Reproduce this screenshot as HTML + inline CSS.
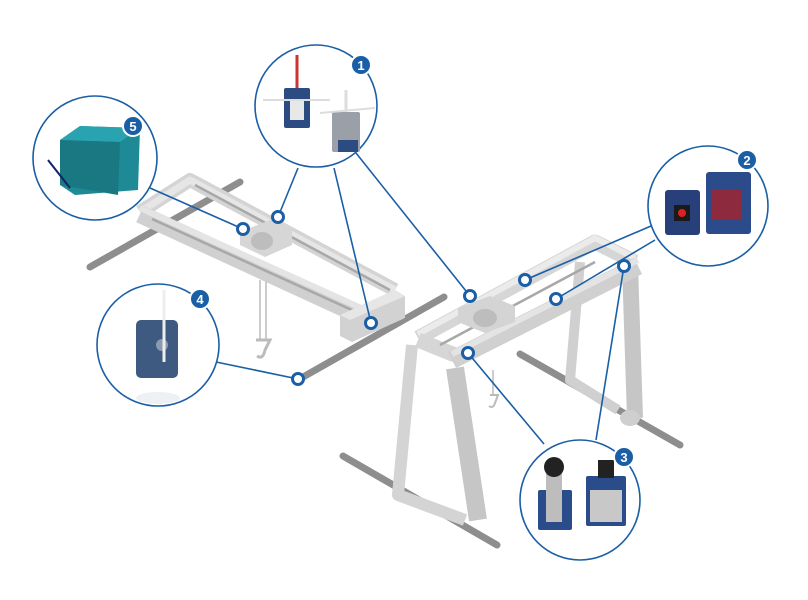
<!DOCTYPE html>
<html><head><meta charset="utf-8"><style>html,body{margin:0;padding:0;background:#fff}svg{display:block}</style></head>
<body>
<svg width="808" height="600" viewBox="0 0 808 600" xmlns="http://www.w3.org/2000/svg" font-family="Liberation Sans, sans-serif">
<g stroke-linecap="round">
<line x1="90" y1="267" x2="240" y2="182" stroke="#8e8e8e" stroke-width="7"/>
<line x1="296" y1="381" x2="444" y2="297" stroke="#8e8e8e" stroke-width="7"/>
</g>
<!-- left bridge crane: hollow frame -->
<g stroke-linejoin="round" fill="none">
<polyline points="140,212 190,180 395,290" stroke="#d4d4d4" stroke-width="14"/>
<polyline points="140,212 190,180 395,290" stroke="#e6e6e6" stroke-width="7"/>
<line x1="140" y1="214" x2="370" y2="320" stroke="#d0d0d0" stroke-width="18"/>
<line x1="140" y1="208" x2="370" y2="312" stroke="#e4e4e4" stroke-width="6"/>
<line x1="152" y1="219" x2="365" y2="316" stroke="#a8a8a8" stroke-width="2.5"/>
<line x1="195" y1="185" x2="390" y2="290" stroke="#a8a8a8" stroke-width="2.5"/>
</g>
<polygon points="340,315 395,290 405,296 405,318 352,342 340,336" fill="#d2d2d2"/>
<polygon points="340,315 395,290 405,296 350,320" fill="#e6e6e6"/>
<polygon points="240,232 275,218 292,228 292,245 265,257 240,245" fill="#d6d6d6"/>
<ellipse cx="262" cy="241" rx="11" ry="9" fill="#bdbdbd"/>
<line x1="260" y1="280" x2="260" y2="340" stroke="#ccc" stroke-width="2"/>
<line x1="266" y1="280" x2="266" y2="340" stroke="#ccc" stroke-width="2"/>
<path d="M256 340 h14 l-5 10 q-2 10 -8 6" fill="none" stroke="#bbb" stroke-width="3"/>
<!-- gantry rails -->
<g stroke-linecap="round">
<line x1="343" y1="456" x2="497" y2="545" stroke="#8e8e8e" stroke-width="7"/>
<line x1="520" y1="354" x2="680" y2="445" stroke="#8e8e8e" stroke-width="7"/>
</g>
<!-- right leg (hollow) -->
<g fill="none" stroke-linejoin="round">
<polyline points="580,262 570,380 618,410" stroke="#d0d0d0" stroke-width="10"/>
<line x1="630" y1="265" x2="635" y2="418" stroke="#c6c6c6" stroke-width="16"/>
</g>
<ellipse cx="630" cy="418" rx="10" ry="8" fill="#cfcfcf"/>
<!-- gantry top frame -->
<g fill="none" stroke-linejoin="round">
<polyline points="418,338 595,242 635,262" stroke="#d6d6d6" stroke-width="15"/>
<polyline points="418,334 595,238 635,258" stroke="#ebebeb" stroke-width="6"/>
<line x1="418" y1="340" x2="455" y2="355" stroke="#d6d6d6" stroke-width="15"/>
<line x1="452" y1="360" x2="638" y2="266" stroke="#d0d0d0" stroke-width="18"/>
<line x1="452" y1="354" x2="638" y2="260" stroke="#e4e4e4" stroke-width="6"/>
<line x1="440" y1="345" x2="595" y2="262" stroke="#a8a8a8" stroke-width="2.5"/>
</g>
<polygon points="458,308 490,296 515,306 515,322 485,333 458,322" fill="#d4d4d4"/>
<ellipse cx="485" cy="318" rx="12" ry="9" fill="#bdbdbd"/>
<!-- left leg (hollow) -->
<g fill="none" stroke-linejoin="round">
<polyline points="412,345 398,495 465,520" stroke="#d4d4d4" stroke-width="12"/>
<line x1="455" y1="368" x2="478" y2="520" stroke="#c6c6c6" stroke-width="18"/>
</g>
<line x1="493" y1="370" x2="493" y2="395" stroke="#ccc" stroke-width="2"/>
<path d="M490 395 h8 l-3 8 q-2 6 -6 3" fill="none" stroke="#bbb" stroke-width="2"/>
<!-- connector lines -->
<g stroke="#1a5fa6" stroke-width="1.6" fill="none">
<line x1="150" y1="188" x2="243" y2="229"/>
<line x1="298" y1="168" x2="278" y2="217"/>
<line x1="334" y1="168" x2="371" y2="323"/>
<line x1="356" y1="153" x2="470" y2="296"/>
<line x1="216" y1="362" x2="298" y2="379"/>
<line x1="651" y1="226" x2="525" y2="280"/>
<line x1="655" y1="240" x2="556" y2="299"/>
<line x1="544" y1="444" x2="468" y2="353"/>
<line x1="596" y1="440" x2="624" y2="266"/>
</g>
<g fill="#fff" stroke="#1a5fa6" stroke-width="3">
<circle cx="243" cy="229" r="5.5"/><circle cx="278" cy="217" r="5.5"/>
<circle cx="371" cy="323" r="5.5"/><circle cx="298" cy="379" r="5.5"/>
<circle cx="470" cy="296" r="5.5"/><circle cx="525" cy="280" r="5.5"/>
<circle cx="556" cy="299" r="5.5"/><circle cx="624" cy="266" r="5.5"/>
<circle cx="468" cy="353" r="5.5"/>
</g>
<g fill="#fff" stroke="#1a5fa6" stroke-width="1.6">
<circle cx="316" cy="106" r="61"/>
<circle cx="708" cy="206" r="60"/>
<circle cx="580" cy="500" r="60"/>
<circle cx="158" cy="345" r="61"/>
<circle cx="95" cy="158" r="62"/>
</g>
<!-- product 1 -->
<rect x="284" y="88" width="26" height="40" rx="2" fill="#2c4b80"/>
<rect x="290" y="100" width="14" height="20" fill="#e8e8e8"/>
<line x1="297" y1="55" x2="297" y2="88" stroke="#c33" stroke-width="3"/>
<line x1="263" y1="100" x2="330" y2="100" stroke="#ddd" stroke-width="2"/>
<rect x="332" y="112" width="28" height="40" rx="2" fill="#9a9fa8"/>
<rect x="338" y="140" width="20" height="12" fill="#2c4b80"/>
<line x1="346" y1="90" x2="346" y2="112" stroke="#ddd" stroke-width="3"/>
<line x1="320" y1="113" x2="375" y2="108" stroke="#ddd" stroke-width="2"/>
<!-- product 2 -->
<rect x="706" y="172" width="45" height="62" rx="3" fill="#2c4b8a"/>
<rect x="712" y="190" width="30" height="30" fill="#8e2a3e"/>
<rect x="665" y="190" width="35" height="45" rx="3" fill="#27407a"/>
<rect x="674" y="205" width="16" height="16" fill="#1a1a1a"/>
<circle cx="682" cy="213" r="4" fill="#e02020"/>
<!-- product 3 -->
<rect x="538" y="490" width="34" height="40" rx="2" fill="#2b4c8a"/>
<rect x="546" y="470" width="16" height="52" fill="#bdbdbd"/>
<circle cx="554" cy="467" r="10" fill="#222"/>
<rect x="586" y="476" width="40" height="50" rx="2" fill="#2b4c8a"/>
<rect x="590" y="490" width="32" height="32" fill="#c8c8c8"/>
<rect x="598" y="460" width="16" height="18" fill="#222"/>
<!-- product 4 -->
<rect x="136" y="320" width="42" height="58" rx="5" fill="#3e5a80"/>
<circle cx="162" cy="345" r="6" fill="#8a9bb0"/>
<line x1="164" y1="290" x2="164" y2="362" stroke="#eee" stroke-width="3"/>
<ellipse cx="158" cy="398" rx="22" ry="6" fill="#eef0f4"/>
<!-- product 5 -->
<polygon points="60,140 80,126 140,128 138,190 75,195 60,185" fill="#1e8a96"/>
<polygon points="60,140 80,126 140,128 120,142" fill="#2aa3b0"/>
<polygon points="60,140 120,142 118,195 60,185" fill="#197882"/>
<line x1="48" y1="160" x2="70" y2="188" stroke="#126" stroke-width="2"/>
<g fill="#1a5fa6" stroke="#fff" stroke-width="2">
<circle cx="361" cy="65" r="10"/><circle cx="747" cy="160" r="10"/>
<circle cx="624" cy="457" r="10"/><circle cx="200" cy="299" r="10"/>
<circle cx="133" cy="126" r="10"/>
</g>
<g fill="#fff" font-size="13" font-weight="bold" text-anchor="middle">
<text x="361" y="70">1</text><text x="747" y="165">2</text>
<text x="624" y="462">3</text><text x="200" y="304">4</text>
<text x="133" y="131">5</text>
</g>
</svg>
</body></html>
